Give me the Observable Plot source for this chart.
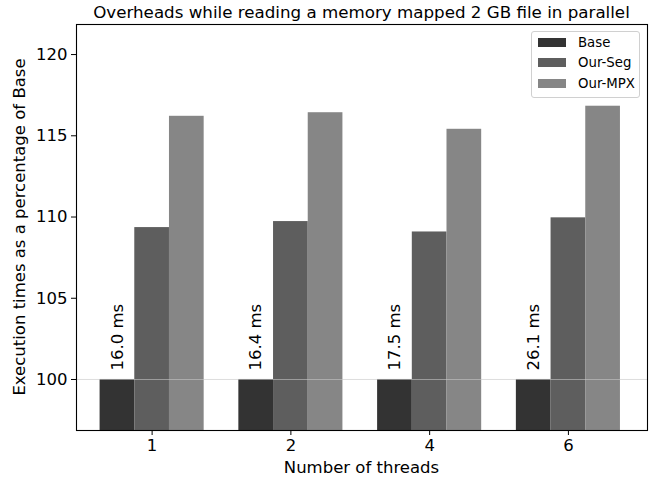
<!DOCTYPE html>
<html>
<head>
<meta charset="utf-8">
<script src="https://cdn.jsdelivr.net/npm/d3@7"></script>
<script src="https://cdn.jsdelivr.net/npm/@observablehq/plot@0.6"></script>
<style>
  html, body { margin: 0; padding: 0; background: #fff; }
  #wrap { position: relative; width: 656px; height: 479px; font-family: "DejaVu Sans", sans-serif; }
  #title { position: absolute; left: 76px; width: 571px; top: 2px; text-align: center; font-size: 16.7px; color: #000; white-space: nowrap; }
  #xlabel { position: absolute; left: 76px; width: 571px; top: 458px; text-align: center; font-size: 16.5px; color: #000; white-space: nowrap; line-height: 20px; }
  #ylabel { position: absolute; left: 20px; top: 227px; width: 0; height: 0; }
  #ylabel span { position: absolute; transform: translate(-50%, -50%) rotate(-90deg); white-space: nowrap; font-size: 16.5px; color: #000; line-height: 20px; }
  #legend { position: absolute; left: 531px; top: 31px; width: 109px; height: 67px; border: 1px solid #d0d0d0; border-radius: 3px; background: rgba(255,255,255,0.8); box-sizing: border-box; }
  .row { position: absolute; left: 6px; height: 20px; display: flex; align-items: center; font-size: 13.3px; color: #000; }
  .sw { width: 28px; height: 9px; margin-right: 12px; }
  svg { position: absolute; left: 0; top: 0; }
</style>
</head>
<body>
<div id="wrap">
  <div id="plot"></div>
  <div id="title"></div>
  <div id="xlabel"></div>
  <div id="ylabel"><span></span></div>
  <div id="legend"></div>
</div>
<script>
const title = "Overheads while reading a memory mapped 2 GB file in parallel";
const threads = ["1", "2", "4", "6"];
const series = ["Base", "Our-Seg", "Our-MPX"];
const colors = ["#333333", "#5e5e5e", "#868686"];
const base = [100, 100, 100, 100];
const ourSeg = [109.35, 109.72, 109.08, 109.95];
const ourMPX = [116.2, 116.42, 115.4, 116.82];
const baseTimes = ["16.0 ms", "16.4 ms", "17.5 ms", "26.1 ms"];
const yLabel = "Execution times as a percentage of Base";
const xLabel = "Number of threads";

const values = [base, ourSeg, ourMPX];
const barW = 0.25;
const rows = [];
threads.forEach((t, g) => {
  series.forEach((s, k) => {
    const c = g + (k - 1) * barW;
    rows.push({g, s, k, x1: c - barW / 2, x2: c + barW / 2, v: values[k][g]});
  });
});
const labels = threads.map((t, g) => ({x: g - barW, y: base[g], text: baseTimes[g]}));

const chart = Plot.plot({
  width: 656,
  height: 479,
  marginTop: 24,
  marginBottom: 49,
  marginLeft: 76,
  marginRight: 9,
  style: {fontFamily: "DejaVu Sans, sans-serif", fontSize: "16.5px", color: "#000", background: "#fff"},
  x: {
    domain: [-0.545, 3.57],
    ticks: 4,
    tickFormat: i => threads[i] ?? "",
    tickSize: 5,
    tickPadding: 4,
    label: null
  },
  y: {
    domain: [96.86, 121.85],
    ticks: 5,
    tickSize: 5,
    tickPadding: 4,
    label: null
  },
  color: {domain: series, range: colors},
  marks: [
    Plot.rectY(rows, {x1: "x1", x2: "x2", y1: 0, y2: "v", fill: "s", clip: true}),
    Plot.ruleY([100], {stroke: "#c8c8c8", strokeOpacity: 0.6, strokeWidth: 1}),
    Plot.text(labels, {x: "x", y: "y", text: "text", rotate: -90, textAnchor: "start", dy: -9, fontSize: 16.5, fill: "#000"}),
    Plot.frame({stroke: "#000", strokeWidth: 1.1})
  ]
});
document.getElementById("plot").appendChild(chart);
document.getElementById("title").textContent = title;
document.getElementById("xlabel").textContent = xLabel;
document.querySelector("#ylabel span").textContent = yLabel;

const leg = document.getElementById("legend");
series.forEach((s, k) => {
  const r = document.createElement("div");
  r.className = "row";
  r.style.top = (0 + k * 20.5) + "px";
  const sw = document.createElement("div");
  sw.className = "sw";
  sw.style.background = colors[k];
  const tx = document.createElement("span");
  tx.textContent = s;
  r.appendChild(sw);
  r.appendChild(tx);
  leg.appendChild(r);
});
</script>
</body>
</html>
